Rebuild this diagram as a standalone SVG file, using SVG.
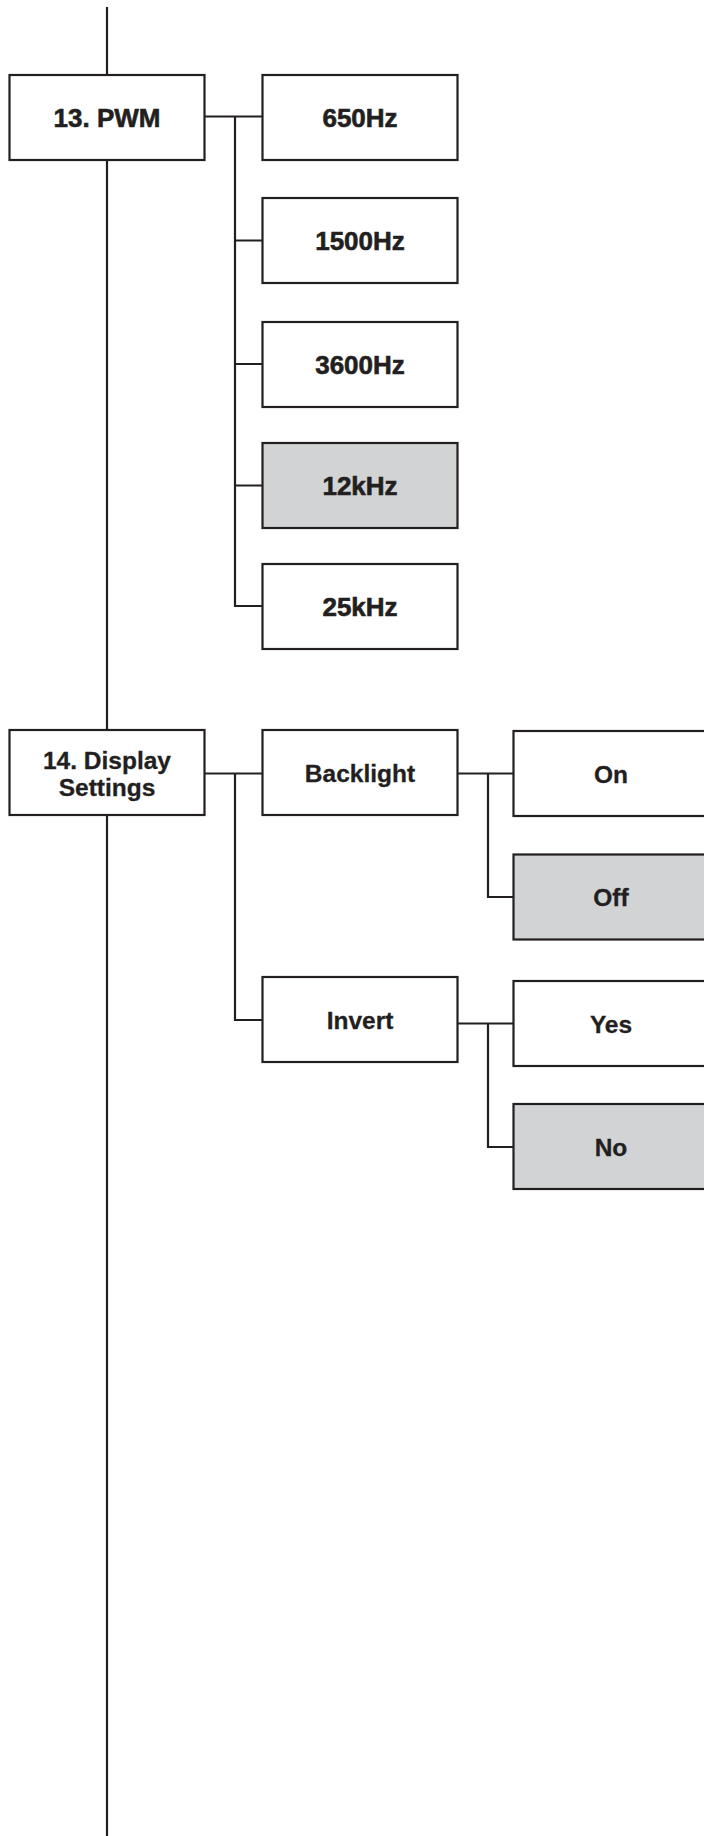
<svg xmlns="http://www.w3.org/2000/svg" width="704" height="1836" viewBox="0 0 704 1836">
<style>
.box{fill:#ffffff;stroke:#231f20;stroke-width:2.2}
.sel{fill:#d1d3d4;stroke:#231f20;stroke-width:2.2}
.ln{fill:none;stroke:#231f20;stroke-width:2.2;stroke-linejoin:miter;stroke-linecap:butt}
.t{font-family:"Liberation Sans",Arial,sans-serif;font-weight:bold;font-size:26px;fill:#231f20;stroke:#231f20;stroke-width:0.6;text-anchor:middle}
.t2{font-family:"Liberation Sans",Arial,sans-serif;font-weight:bold;font-size:24.5px;fill:#231f20;stroke:#231f20;stroke-width:0.3;text-anchor:middle}
</style>
<rect width="704" height="1836" fill="#ffffff"/>
<g id="connectors">
<path class="ln" d="M107 7 V1836"/>
<path class="ln" d="M204.5 116.5 H262.5"/>
<path class="ln" d="M235 116.5 V606 H262.5"/>
<path class="ln" d="M235 240.5 H262.5 M235 364 H262.5 M235 485.5 H262.5"/>
<path class="ln" d="M204.5 773.5 H262.5"/>
<path class="ln" d="M235 773.5 V1020 H262.5"/>
<path class="ln" d="M457.5 773.5 H513.5"/>
<path class="ln" d="M488 773.5 V897 H513.5"/>
<path class="ln" d="M457.5 1023.5 H513.5"/>
<path class="ln" d="M488 1023.5 V1147 H513.5"/>
</g>
<g id="pwm"><rect class="box" x="9.5" y="75" width="195" height="85"/><text class="t" x="107" y="127">13. PWM</text></g>
<g id="hz650"><rect class="box" x="262.5" y="75" width="195" height="85"/><text class="t" x="360" y="127">650Hz</text></g>
<g id="hz1500"><rect class="box" x="262.5" y="198" width="195" height="85"/><text class="t" x="360" y="250">1500Hz</text></g>
<g id="hz3600"><rect class="box" x="262.5" y="322" width="195" height="85"/><text class="t" x="360" y="374">3600Hz</text></g>
<g id="khz12"><rect class="sel" x="262.5" y="443" width="195" height="85"/><text class="t" x="360" y="495">12kHz</text></g>
<g id="khz25"><rect class="box" x="262.5" y="564" width="195" height="85"/><text class="t" x="360" y="616">25kHz</text></g>
<g id="display"><rect class="box" x="9.5" y="730" width="195" height="85"/><text class="t2" x="107" y="769">14. Display</text><text class="t2" x="107" y="795.5">Settings</text></g>
<g id="backlight"><rect class="box" x="262.5" y="730" width="195" height="85"/><text class="t2" x="360" y="781.5">Backlight</text></g>
<g id="invert"><rect class="box" x="262.5" y="977" width="195" height="85"/><text class="t2" x="360" y="1029">Invert</text></g>
<g id="on"><rect class="box" x="513.5" y="731" width="195" height="85"/><text class="t2" x="611" y="782.5">On</text></g>
<g id="off"><rect class="sel" x="513.5" y="854.5" width="195" height="85"/><text class="t2" x="611" y="906">Off</text></g>
<g id="yes"><rect class="box" x="513.5" y="981" width="195" height="85"/><text class="t2" x="611" y="1032.5">Yes</text></g>
<g id="no"><rect class="sel" x="513.5" y="1104" width="195" height="85"/><text class="t2" x="611" y="1156">No</text></g>
</svg>
